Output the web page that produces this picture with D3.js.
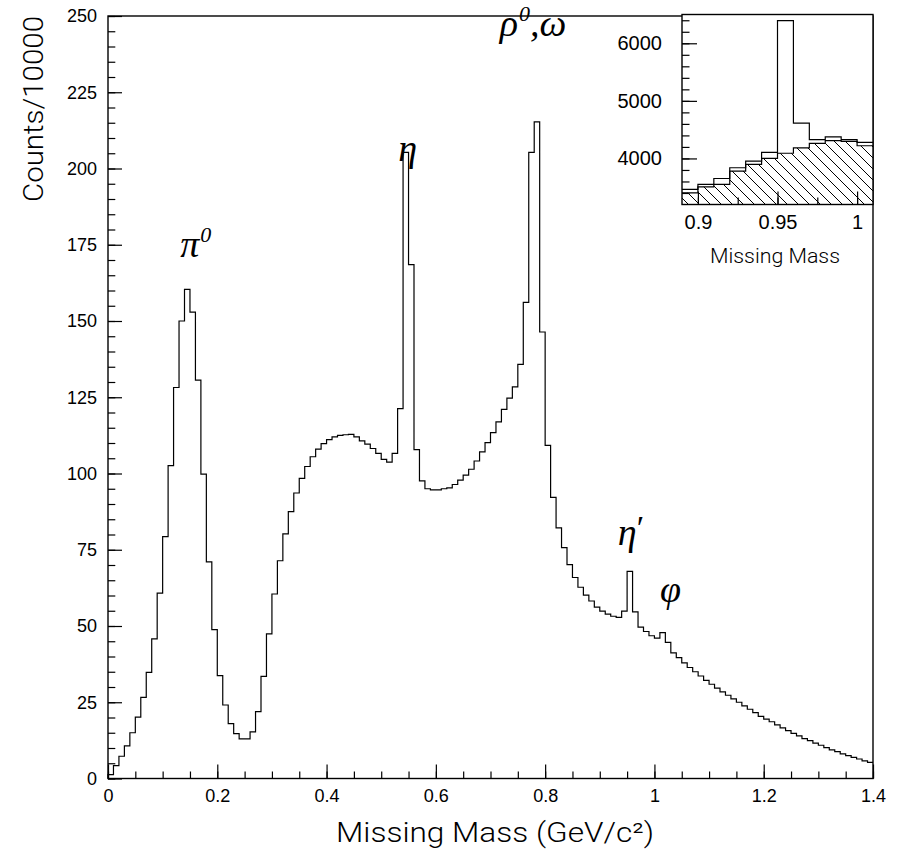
<!DOCTYPE html>
<html lang="en">
<head>
<meta charset="UTF-8">
<title>Missing Mass spectrum</title>
<script src="https://d3js.org/d3.v7.min.js"></script>
<style>
  body { margin: 0; background: #fff; }
  svg { display: block; font-family: Roboto, "Liberation Sans", Arial, sans-serif; font-weight: 300; }
  .domain { display: none; }
  .tick line { stroke: #000; stroke-width: 1.2; }
  .tick text { font-size: 18px; fill: #000; }
  .hist { fill: none; stroke: #000; stroke-width: 1.2; }
  .frame { fill: none; stroke: #000; stroke-width: 1.4; }
  .peak { font-family: "Liberation Serif", "DejaVu Serif", serif; font-style: italic; font-weight: 400; font-size: 38px; }
  .title { font-size: 27px; }
</style>
</head>
<body>
<div id="chart"></div>
<script>
// main histogram: 140 bins of 0.01 GeV starting at 0
const binStart = 0;
const binWidth = 0.01;
const counts = [
  1.3, 4.2, 7.3, 10.7, 15.0, 20.1, 26.6, 34.8, 45.8, 60.8,
  79.3, 102.6, 128.2, 150.0, 160.4, 152.9, 130.6, 99.8, 71.0, 48.8,
  33.7, 24.1, 18.0, 14.7, 13.0, 13.0, 15.3, 21.9, 33.5, 47.4,
  60.5, 71.4, 80.2, 87.5, 93.6, 98.4, 102.3, 105.5, 108.0, 109.8,
  111.1, 112.0, 112.5, 112.7, 112.8, 112.0, 110.7, 109.6, 108.2, 106.6,
  104.6, 103.7, 106.6, 121.3, 205.3, 168.5, 107.8, 97.6, 95.0, 94.6,
  94.6, 95.0, 95.3, 96.4, 97.8, 99.5, 101.4, 104.1, 107.1, 110.1,
  113.4, 116.9, 121.0, 124.7, 128.4, 135.8, 156.1, 205.3, 215.3, 146.4,
  109.2, 92.2, 82.2, 75.7, 70.1, 65.9, 62.7, 60.1, 58.2, 56.2,
  54.9, 53.9, 53.2, 52.8, 54.9, 67.9, 54.6, 49.6, 48.2, 46.8,
  46.0, 47.8, 44.6, 41.2, 39.6, 37.9, 36.4, 35.0, 33.6, 32.2,
  30.9, 29.6, 28.4, 27.3, 26.1, 25.0, 23.8, 22.7, 21.6, 20.4,
  19.5, 18.6, 17.6, 16.6, 15.7, 14.8, 14.0, 13.1, 12.4, 11.6,
  10.9, 10.1, 9.4, 8.8, 8.1, 7.5, 6.9, 6.4, 5.8, 5.3
];
const yTickValues = [0, 25, 50, 75, 100, 125, 150, 175, 200, 225, 250];
const xTickValues = [0, 0.2, 0.4, 0.6, 0.8, 1.0, 1.2, 1.4];
const xTickLabels = ["0", "0.2", "0.4", "0.6", "0.8", "1", "1.2", "1.4"];

// inset: eta' region
const insetStart = 0.89;
const insetAll = [3461, 3548, 3652, 3838, 3954, 4104, 6394, 4615, 4327, 4373, 4327, 4280];
const insetBackground = [3403, 3507, 3548, 3780, 3896, 4000, 4090, 4182, 4263, 4310, 4295, 4220];
const insetYTicks = [4000, 5000, 6000];
const insetXTicks = [0.9, 0.95, 1.0];
const insetXTickLabels = ["0.9", "0.95", "1"];

// peak annotations
const peakNames = [
  { base: "π", sup: "0" },
  { base: "η", sup: "" },
  { base: "ρ", sup: "0", tail: ",ω" },
  { base: "η", sup: "′" },
  { base: "φ", sup: "" }
];
const peakAnchors = [[0.132, 171], [0.531, 202.5], [0.717, 243.5], [0.933, 76.5], [1.010, 58]];

const W = 897, H = 849;
const svg = d3.select("#chart").append("svg").attr("width", W).attr("height", H);

const x = d3.scaleLinear().domain([0, 1.4]).range([108, 873]);
const y = d3.scaleLinear().domain([0, 250]).range([778.5, 16]);

function stepPoints(start, width, vals) {
  const pts = vals.map((v, i) => [start + i * width, v]);
  pts.push([start + vals.length * width, vals[vals.length - 1]]);
  return pts;
}

// histogram
const mainLine = d3.line().curve(d3.curveStepAfter).x(d => x(d[0])).y(d => y(d[1]));
svg.append("path")
  .attr("class", "hist")
  .attr("d", mainLine([[binStart, 0]].concat(stepPoints(binStart, binWidth, counts))));

// axes: minor then major ticks, pointing inward
svg.append("g").attr("transform", "translate(108,0)")
  .call(d3.axisLeft(y).tickValues(d3.range(0, 251, 5)).tickSize(-7.3).tickFormat(""));
svg.append("g").attr("transform", "translate(108,0)")
  .call(d3.axisLeft(y).tickValues(yTickValues).tickSize(-14).tickPadding(11).tickFormat(d3.format("d")));

svg.append("g").attr("transform", "translate(0,778.5)")
  .call(d3.axisBottom(x).tickValues(d3.range(0, 1.401, 0.05)).tickSize(-7).tickFormat(""));
svg.append("g").attr("transform", "translate(0,778.5)")
  .call(d3.axisBottom(x).tickValues(xTickValues).tickSize(-14).tickPadding(11)
    .tickFormat((d, i) => xTickLabels[i]));

svg.append("rect").attr("class", "frame")
  .attr("x", 108).attr("y", 16).attr("width", 873 - 108).attr("height", 778.5 - 16);

// axis titles
svg.append("text").attr("class", "title")
  .attr("transform", "translate(43,16) rotate(-90)")
  .attr("text-anchor", "end")
  .attr("textLength", 186).attr("lengthAdjust", "spacingAndGlyphs")
  .text("Counts/10000");

svg.append("text").attr("class", "title")
  .attr("x", 336).attr("y", 842)
  .attr("textLength", 318).attr("lengthAdjust", "spacingAndGlyphs")
  .text("Missing Mass (GeV/c²)");

// peak labels
peakNames.forEach((p, i) => {
  const t = svg.append("text").attr("class", "peak")
    .attr("x", x(peakAnchors[i][0])).attr("y", y(peakAnchors[i][1]));
  t.append("tspan").text(p.base);
  if (p.sup === "′") {
    t.append("tspan").attr("dy", -6).style("font-size", "34px").style("font-style", "normal").text(p.sup);
  } else if (p.sup) {
    t.append("tspan").attr("dx", 1).attr("dy", -15).style("font-size", "22px").text(p.sup);
  }
  if (p.tail) t.append("tspan").attr("dy", 15).text(p.tail);
});

// inset
const xi = d3.scaleLinear().domain([0.89, 1.01]).range([682, 873]);
const yi = d3.scaleLinear().domain([3200, 6500]).range([204.5, 14.5]);

const defs = svg.append("defs");
const pat = defs.append("pattern").attr("id", "hatch")
  .attr("patternUnits", "userSpaceOnUse").attr("width", 11).attr("height", 11);
pat.append("path").attr("d", "M-1,-1 L12,12 M-1,10 L1,12 M10,-1 L12,1")
  .attr("stroke", "#000").attr("stroke-width", 1);
defs.append("clipPath").attr("id", "insetClip")
  .append("rect").attr("x", 682).attr("y", 14.5).attr("width", 191).attr("height", 190);

svg.append("rect").attr("x", 682).attr("y", 14.5).attr("width", 191).attr("height", 190).attr("fill", "#fff");

const ig = svg.append("g").attr("clip-path", "url(#insetClip)");
const bgPts = stepPoints(insetStart, binWidth, insetBackground);
ig.append("path")
  .attr("fill", "url(#hatch)")
  .attr("d", d3.area().curve(d3.curveStepAfter).x(d => xi(d[0])).y0(204.5).y1(d => yi(d[1]))(bgPts));
const insetLine = d3.line().curve(d3.curveStepAfter).x(d => xi(d[0])).y(d => yi(d[1]));
ig.append("path").attr("class", "hist").attr("d", insetLine(bgPts));
ig.append("path").attr("class", "hist").attr("d", insetLine(stepPoints(insetStart, binWidth, insetAll)));

svg.append("g").attr("class", "inset-axis").attr("transform", "translate(682,0)")
  .call(d3.axisLeft(yi).tickValues(d3.range(3400, 6401, 200)).tickSize(-7.5).tickFormat(""));
svg.append("g").attr("class", "inset-axis").attr("transform", "translate(682,0)")
  .call(d3.axisLeft(yi).tickValues(insetYTicks).tickSize(-15).tickPadding(20).tickFormat(d3.format("d")));
svg.append("g").attr("class", "inset-axis").attr("transform", "translate(0,204.5)")
  .call(d3.axisBottom(xi).tickValues(d3.range(0.9, 1.005, 0.025)).tickSize(-7).tickFormat(""));
svg.append("g").attr("class", "inset-axis").attr("transform", "translate(0,204.5)")
  .call(d3.axisBottom(xi).tickValues(insetXTicks).tickSize(-13).tickPadding(10)
    .tickFormat((d, i) => insetXTickLabels[i]));
svg.selectAll(".inset-axis .tick text").style("font-size", "20px");

svg.append("rect").attr("class", "frame")
  .attr("x", 682).attr("y", 14.5).attr("width", 191).attr("height", 190);

svg.append("text").attr("x", 775).attr("y", 263).attr("text-anchor", "middle")
  .attr("textLength", 130).attr("lengthAdjust", "spacingAndGlyphs")
  .style("font-size", "20px").text("Missing Mass");
</script>
</body>
</html>
